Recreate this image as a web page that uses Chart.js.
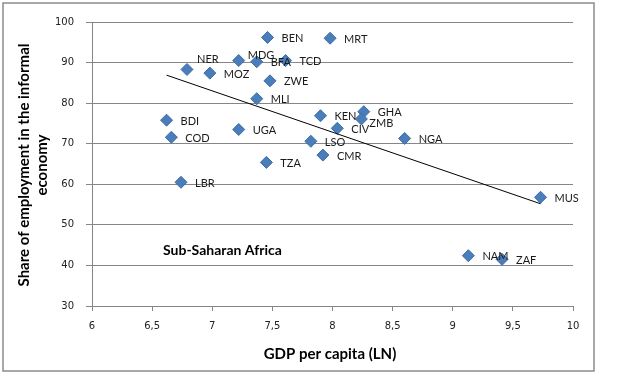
<!DOCTYPE html>
<html>

<head>
    <title>Sub-Saharan Africa informal employment</title>
    <script src="https://cdn.jsdelivr.net/npm/chart.js"></script>
    <style>
        body { margin: 0; background: #fff; }
    </style>
</head>

<body>
    <canvas id="myChart" width="620" height="374"></canvas>

    <script>
        // country codes, GDP per capita (ln) and share of informal employment (%)
        const countries = ["BEN", "MRT", "NER", "MDG", "BFA", "TCD", "MOZ", "ZWE", "MLI",
            "BDI", "COD", "UGA", "KEN", "GHA", "ZMB", "CIV", "NGA", "LSO", "CMR",
            "TZA", "LBR", "MUS", "NAM", "ZAF"];
        const gdpLn = [7.46, 7.98, 6.79, 7.22, 7.37, 7.61, 6.98, 7.48, 7.37,
            6.62, 6.66, 7.22, 7.90, 8.26, 8.24, 8.04, 8.60, 7.82, 7.92,
            7.45, 6.74, 9.73, 9.13, 9.41];
        const informalShare = [96.2, 96.0, 88.3, 90.5, 90.2, 90.5, 87.4, 85.5, 81.1,
            75.8, 71.6, 73.5, 76.9, 77.9, 76.1, 73.8, 71.3, 70.6, 67.2,
            65.4, 60.5, 56.8, 42.4, 41.5];

        // linear trend line end points
        const trendX = [6.62, 9.73];
        const trendY = [86.9, 55.2];

        const xTicks = { min: 6, max: 10, step: 0.5 };
        const yTicks = { min: 30, max: 100, step: 10 };

        // labels that were moved by hand in the original
        const labelNudge = { NER: [-4, -11], MDG: [-5, -6], ZMB: [-6, 3] };

        const points = countries.map((c, i) => ({ x: gdpLn[i], y: informalShare[i], code: c }));
        const trend = trendX.map((x, i) => ({ x: x, y: trendY[i] }));

        const decorPlugin = {
            id: "decor",
            beforeDraw(chart) {
                const ctx = chart.ctx;
                ctx.save();
                ctx.fillStyle = "#fff";
                ctx.fillRect(0, 0, chart.width, chart.height);
                ctx.strokeStyle = "#8c8c8c";
                ctx.lineWidth = 1.5;
                ctx.strokeRect(3, 3, 591, 368);
                ctx.restore();
            },
            afterDatasetsDraw(chart) {
                const ctx = chart.ctx;
                const meta = chart.getDatasetMeta(1);
                ctx.save();
                ctx.font = "11px Lato";
                ctx.fillStyle = "#1a1a1a";
                ctx.textBaseline = "middle";
                meta.data.forEach((pt, i) => {
                    const code = points[i].code;
                    const d = labelNudge[code] || [0, 0];
                    ctx.fillText(code, pt.x + 14 + d[0], pt.y + 1 + d[1]);
                });

                ctx.font = "bold 14px Lato";
                ctx.fillStyle = "#000";
                ctx.fillText("Sub-Saharan Africa", 163, 250);

                // axis titles
                ctx.font = "bold 15px Lato";
                ctx.textAlign = "center";
                ctx.fillText("GDP per capita (LN)", 330, 354);
                ctx.translate(33, 165);
                ctx.rotate(-Math.PI / 2);
                ctx.fillText("Share of employment in the informal", 0, -9);
                ctx.fillText("economy", 0, 9);
                ctx.restore();
            }
        };

        const ctx = document.getElementById("myChart").getContext("2d");
        new Chart(ctx, {
            type: "scatter",
            data: {
                datasets: [{
                    type: "line",
                    data: trend,
                    borderColor: "#000",
                    borderWidth: 1,
                    pointRadius: 0,
                    fill: false,
                }, {
                    data: points,
                    pointStyle: "rectRot",
                    pointRadius: 6,
                    pointHoverRadius: 6,
                    backgroundColor: "#4a7ebb",
                    borderColor: "#3d6ca4",
                    borderWidth: 1,
                }],
            },
            options: {
                responsive: false,
                animation: false,
                layout: { padding: { top: 22, right: 47, left: 0, bottom: 0 } },
                plugins: {
                    legend: { display: false },
                    tooltip: { enabled: false },
                },
                scales: {
                    x: {
                        type: "linear",
                        min: xTicks.min,
                        max: xTicks.max,
                        afterFit: (s) => { s.height = 68; },
                        ticks: {
                            stepSize: xTicks.step,
                            padding: 9,
                            color: "#222",
                            font: { family: "DejaVu Sans", size: 10 },
                            callback: (v) => String(v).replace(".", ","),
                        },
                        grid: { drawOnChartArea: false, tickLength: 5, color: "#868686" },
                        border: { color: "#868686" },
                    },
                    y: {
                        min: yTicks.min,
                        max: yTicks.max,
                        afterFit: (s) => { s.width = 92; },
                        ticks: {
                            stepSize: yTicks.step,
                            padding: 12,
                            color: "#222",
                            font: { family: "DejaVu Sans", size: 10 },
                        },
                        grid: { tickLength: 6, color: "#868686" },
                        border: { color: "#868686" },
                    },
                },
            },
            plugins: [decorPlugin],
        });
    </script>
</body>

</html>
